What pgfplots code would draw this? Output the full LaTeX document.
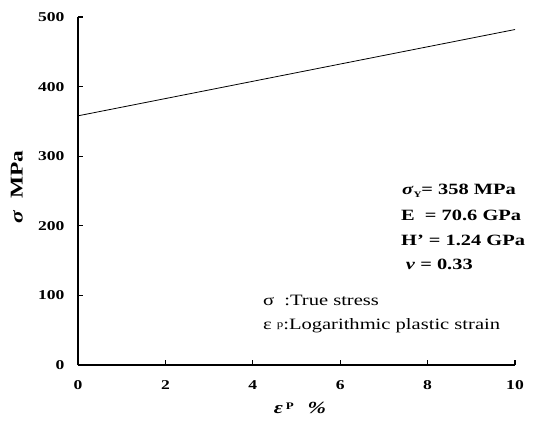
\documentclass[border=0pt]{standalone}
\usepackage{fontspec}
\setmainfont{Liberation Serif}[FakeStretch=1.3]
\usepackage{pgfplots}
\pgfplotsset{compat=1.18}
\begin{document}
\begin{tikzpicture}
\path[use as bounding box] (-78pt,-60pt) rectangle (459pt,365pt);
\begin{axis}[
  scale only axis, width=437pt, height=348pt,
  anchor=south west, at={(0,0)},
  xmin=0, xmax=10, ymin=0, ymax=500,
  axis x line*=bottom, axis y line*=left,
  axis line style={line width=1.4pt},
  xtick={0,2,...,10}, ytick={0,100,...,500},
  tick align=inside, major tick length=5pt,
  tick style={line width=1.2pt, black},
  /pgf/number format/assume math mode=true,
  ticklabel style={font=\fontsize{13.5}{14}\selectfont\bfseries},
  xticklabel style={yshift=-12pt},
  yticklabel style={xshift=-10pt},
  xlabel={\textbf{\textit{ε}}\,\raisebox{0.5ex}{\fontsize{10}{10}\selectfont\textbf{P}}\enspace\ \textbf{\textit{\%}}},
  xlabel style={at={(axis description cs:0.508,-0.124)}, anchor=center, font=\fontsize{17}{18}\selectfont},
  ylabel={\textbf{\textit{σ}}\ \ \textbf{MPa}},
  ylabel style={at={(axis description cs:-0.14,0.511)}, anchor=center, font=\fontsize{18}{19}\selectfont},
  clip=false,
]
\addplot[black, line width=0.8pt] coordinates {(0,358) (10,482)};
\node[anchor=base west, inner sep=0pt, font=\fontsize{15.7}{19}\selectfont\bfseries] at (axis cs:7.41,244.3) {\textit{σ}\raisebox{-0.3ex}{\fontsize{8.5}{9}\selectfont Y}= 358 MPa};
\node[anchor=base west, inner sep=0pt, font=\fontsize{15.7}{19}\selectfont\bfseries] at (axis cs:7.39,208.3) {E \ = 70.6 GPa};
\node[anchor=base west, inner sep=0pt, font=\fontsize{15.7}{19}\selectfont\bfseries] at (axis cs:7.39,172.4) {H’ = 1.24 GPa};
\node[anchor=base west, inner sep=0pt, font=\fontsize{15.7}{19}\selectfont\bfseries] at (axis cs:7.5,136.5) {\textit{ν} = 0.33};
\node[anchor=base west, inner sep=0pt, font=\fontsize{15.8}{19}\selectfont] at (axis cs:4.23,86.2) {σ\ \ :True stress};
\node[anchor=base west, inner sep=0pt, font=\fontsize{15.8}{19}\selectfont] at (axis cs:4.23,50.3) {ε\ \raisebox{0.35ex}{\fontsize{10}{12}\selectfont p}:Logarithmic plastic strain};
\end{axis}
\end{tikzpicture}
\end{document}
